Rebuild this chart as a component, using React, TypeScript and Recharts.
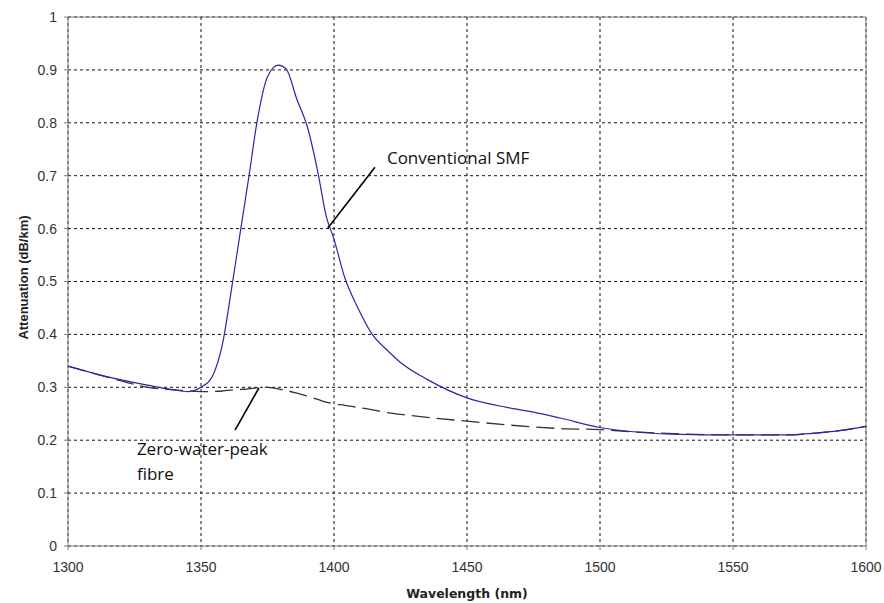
import React from 'react'
import {
  LineChart,
  Line,
  XAxis,
  YAxis,
  CartesianGrid,
  ReferenceLine,
  ReferenceDot,
} from 'recharts'

// wavelength samples (nm)
const wavelength = [
  1300, 1310, 1320, 1330, 1340, 1345, 1350, 1354, 1358, 1362, 1365, 1368, 1371, 1375, 1379,
  1382, 1386, 1390, 1394, 1397, 1400, 1404, 1409, 1414, 1420, 1425, 1435, 1450, 1465, 1475,
  1485, 1500, 1515, 1530, 1550, 1570, 1580, 1590, 1600,
]

// Conventional SMF attenuation (dB/km)
const conventionalSmf = [
  0.34, 0.326, 0.314, 0.304, 0.295, 0.292, 0.3, 0.318, 0.38, 0.503, 0.601, 0.698, 0.8, 0.887,
  0.909, 0.902, 0.845, 0.792, 0.705, 0.625, 0.58, 0.508, 0.45, 0.403, 0.37, 0.347, 0.315, 0.28,
  0.262, 0.253, 0.242, 0.224, 0.215, 0.211, 0.21, 0.21, 0.213, 0.218, 0.226,
]

// Zero-water-peak fibre attenuation (dB/km)
const zeroWaterPeak = [
  0.34, 0.326, 0.312, 0.3, 0.295, 0.293, 0.292, 0.292, 0.293, 0.295, 0.296, 0.297, 0.299, 0.3,
  0.297, 0.294, 0.289, 0.283, 0.277, 0.272, 0.269, 0.266, 0.262, 0.258, 0.252, 0.249, 0.243,
  0.236, 0.229, 0.225, 0.222, 0.22, 0.215, 0.212, 0.21, 0.21, 0.213, 0.218, 0.226,
]

const xTicks = [1300, 1350, 1400, 1450, 1500, 1550, 1600]
const yTicks = [0, 0.1, 0.2, 0.3, 0.4, 0.5, 0.6, 0.7, 0.8, 0.9, 1]

// annotation pointers and labels, in data units
const smfPointer = [
  { x: 1397.7, y: 0.601 },
  { x: 1415.4, y: 0.716 },
]
const zwpPointer = [
  { x: 1371.8, y: 0.299 },
  { x: 1362.8, y: 0.219 },
]
const smfLabel = { x: 1419.9, y: 0.722, lines: ['Conventional SMF'] }
const zwpLabel = { x: 1325.9, y: 0.172, lines: ['Zero-water-peak', 'fibre'] }

const data = wavelength.map((w, i) => ({
  wavelength: w,
  smf: conventionalSmf[i],
  zwp: zeroWaterPeak[i],
}))

const tickStyle = { fill: '#333', fontSize: 14, fontFamily: 'Liberation Sans, Arial, sans-serif' }
const noteFont = "'Open Sans', 'Noto Sans', sans-serif"

function noteLabel(lines: string[]) {
  return (props: any) => {
    const vb = props.viewBox || {}
    const x = (vb.x ?? 0) + (vb.width ?? 0) / 2
    const y = (vb.y ?? 0) + (vb.height ?? 0) / 2
    return (
      <text x={x} y={y} fontSize={17} fontFamily={noteFont} fill="#111">
        {lines.map((l, i) => (
          <tspan key={i} x={x} dy={i === 0 ? 0 : 25}>
            {l}
          </tspan>
        ))}
      </text>
    )
  }
}

function YTitle(props: any) {
  const vb = props.viewBox || {}
  const cx = 23
  const cy = (vb.y ?? 0) + (vb.height ?? 0) / 2 - 4
  return (
    <text
      x={cx}
      y={cy}
      transform={`rotate(-90, ${cx}, ${cy})`}
      textAnchor="middle"
      dominantBaseline="central"
      fontSize={13}
      fontWeight="bold"
      fontFamily="Liberation Sans, Arial, sans-serif"
      fill="#222"
    >
      Attenuation (dB/km)
    </text>
  )
}

export default function App() {
  return (
    <div style={{ position: 'absolute', left: 0, top: 0, background: '#fff' }}>
      <LineChart
        width={884}
        height={603}
        data={data}
        margin={{ top: 17, right: 18, bottom: 27, left: 8 }}
      >
        <CartesianGrid stroke="#111" strokeDasharray="3 3" />
        <XAxis
          dataKey="wavelength"
          type="number"
          domain={[1300, 1600]}
          ticks={xTicks}
          interval={0}
          height={30}
          tick={tickStyle}
          tickSize={4}
          tickMargin={12}
          stroke="#808080"
          label={{
            value: 'Wavelength (nm)',
            position: 'bottom',
            offset: 13,
            style: {
              fontSize: 12.5,
              fontWeight: 'bold',
              fill: '#222',
              fontFamily: "'DejaVu Sans', sans-serif",
            },
          }}
        />
        <YAxis
          type="number"
          domain={[0, 1]}
          ticks={yTicks}
          interval={0}
          width={60}
          tick={tickStyle}
          tickSize={4}
          tickMargin={7}
          stroke="#808080"
          label={<YTitle />}
        />
        <ReferenceLine y={1} stroke="#808080" strokeWidth={1} />
        <ReferenceLine x={1600} stroke="#808080" strokeWidth={1} />
        <Line
          type="monotone"
          dataKey="zwp"
          stroke="#333"
          strokeWidth={1.3}
          strokeDasharray="18 7"
          dot={false}
          isAnimationActive={false}
        />
        <Line
          type="monotone"
          dataKey="smf"
          stroke="#2828a8"
          strokeWidth={1.2}
          dot={false}
          isAnimationActive={false}
        />
        <ReferenceLine segment={smfPointer} stroke="#000" strokeWidth={1.6} />
        <ReferenceLine segment={zwpPointer} stroke="#000" strokeWidth={1.6} />
        <ReferenceDot
          x={smfLabel.x}
          y={smfLabel.y}
          r={1}
          fill="none"
          stroke="none"
          label={noteLabel(smfLabel.lines)}
        />
        <ReferenceDot
          x={zwpLabel.x}
          y={zwpLabel.y}
          r={1}
          fill="none"
          stroke="none"
          label={noteLabel(zwpLabel.lines)}
        />
      </LineChart>
    </div>
  )
}
